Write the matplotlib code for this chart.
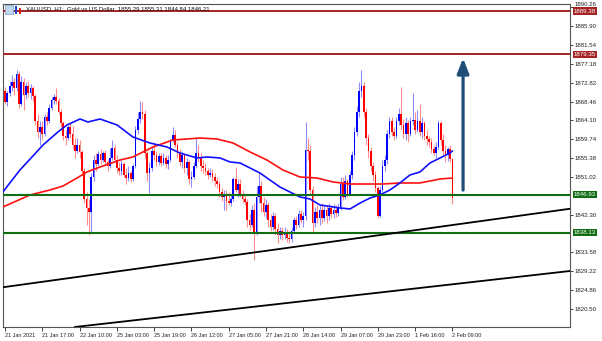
import numpy as np
import matplotlib
matplotlib.use("Agg")
import matplotlib.pyplot as plt
from matplotlib.patches import Rectangle
import matplotlib.transforms as mtransforms

plt.rcParams['font.family'] = ['Liberation Sans', 'DejaVu Sans']

# ---------------- data ----------------
opens = [
    1871.0, 1868.3, 1870.5, 1872.0, 1873.0, 1871.5, 1874.8, 1868.0, 1873.0, 1870.0,
    1872.0, 1870.5, 1871.5, 1869.8, 1864.0, 1861.5, 1862.5, 1861.0, 1864.8, 1864.0,
    1867.0, 1868.8, 1869.5, 1868.5, 1866.0, 1863.5, 1860.5, 1860.0, 1862.5, 1861.0,
    1858.5, 1857.0, 1858.5, 1856.8, 1852.5, 1846.0, 1843.8, 1843.0, 1851.0, 1855.0,
    1854.0, 1856.3, 1855.0, 1856.5, 1854.5, 1853.5, 1855.5, 1857.8, 1855.0, 1853.0,
    1852.5, 1854.0, 1851.5, 1850.8, 1852.0, 1850.5, 1853.5, 1862.0, 1864.5, 1866.0,
    1865.5, 1856.5, 1852.0, 1853.0, 1857.0, 1856.0, 1854.5, 1855.8, 1854.3, 1855.5,
    1854.0, 1855.0, 1859.5, 1860.8, 1858.5, 1856.5, 1854.5, 1856.0, 1853.0, 1854.5,
    1850.5, 1851.0, 1853.5, 1856.5, 1855.5, 1853.5, 1853.0, 1852.5, 1851.5, 1852.0,
    1851.0, 1850.0, 1849.5, 1847.5, 1846.5, 1847.0, 1845.5, 1845.0, 1846.0, 1850.5,
    1848.0, 1849.5, 1847.0, 1846.0, 1845.2, 1841.0, 1840.0, 1843.5, 1838.3, 1846.5,
    1849.0, 1845.0, 1843.0, 1844.5, 1841.0, 1839.5, 1842.0, 1839.0, 1837.5, 1838.5,
    1837.5, 1838.3, 1837.0, 1836.8, 1838.5, 1841.0, 1840.0, 1842.5, 1841.0, 1842.0,
    1857.3, 1857.0, 1848.0, 1840.5, 1843.0, 1841.5, 1843.5, 1841.5, 1843.5, 1842.0,
    1843.8, 1842.5, 1843.5, 1842.8, 1844.0, 1849.5, 1846.5, 1850.0, 1847.0, 1851.5,
    1856.0, 1861.5, 1866.0, 1871.0, 1872.0, 1866.0, 1860.0, 1857.0, 1853.5, 1851.5,
    1848.5, 1842.0, 1848.0, 1853.5, 1855.0, 1861.0, 1864.0, 1861.5, 1860.5, 1864.0,
    1865.5, 1863.0, 1861.0, 1863.5, 1861.0, 1864.0, 1864.3, 1862.0, 1864.0, 1861.5,
    1863.5, 1860.5, 1859.8, 1859.0, 1857.5, 1856.5, 1858.0, 1863.5, 1859.5, 1857.0,
    1856.0, 1857.5, 1855.29,
]
highs = [
    1871.8, 1871.0, 1873.3, 1874.5, 1874.0, 1875.7, 1875.5, 1874.3, 1874.0, 1873.0,
    1873.3, 1872.5, 1872.0, 1870.3, 1865.5, 1864.0, 1864.0, 1865.5, 1866.0, 1867.8,
    1869.5, 1870.3, 1871.6, 1869.2, 1866.8, 1864.0, 1862.0, 1863.0, 1863.5, 1862.8,
    1860.0, 1860.0, 1859.5, 1857.3, 1853.0, 1847.5, 1846.0, 1852.0, 1856.0, 1856.5,
    1857.0, 1857.5, 1857.0, 1857.2, 1855.2, 1857.8, 1859.5, 1858.5, 1856.0, 1854.5,
    1855.0, 1854.5, 1853.0, 1853.5, 1852.5, 1854.0, 1862.8, 1866.0, 1868.7, 1868.3,
    1866.5, 1857.0, 1854.5, 1858.0, 1858.8, 1857.0, 1856.5, 1856.5, 1856.5, 1856.0,
    1856.0, 1860.0, 1862.5, 1862.0, 1859.0, 1857.5, 1857.0, 1856.5, 1855.5, 1855.0,
    1852.5, 1854.5, 1860.0, 1858.5, 1856.5, 1855.0, 1854.3, 1853.0, 1853.0, 1852.8,
    1852.0, 1851.0, 1850.0, 1848.5, 1848.0, 1848.0, 1847.5, 1847.0, 1851.0, 1853.4,
    1850.5, 1850.5, 1848.0, 1847.0, 1846.0, 1842.5, 1844.5, 1845.0, 1849.0, 1852.0,
    1850.0, 1846.5, 1846.0, 1845.3, 1842.5, 1843.0, 1842.7, 1840.5, 1839.5, 1839.5,
    1839.5, 1839.0, 1838.5, 1839.5, 1841.8, 1842.0, 1843.4, 1843.5, 1843.0, 1863.7,
    1860.0, 1858.5, 1849.0, 1844.0, 1844.5, 1844.5, 1845.0, 1844.5, 1844.5, 1845.0,
    1844.5, 1844.8, 1844.5, 1845.0, 1851.0, 1851.0, 1851.5, 1850.5, 1852.5, 1857.0,
    1862.5, 1867.5, 1873.0, 1875.8, 1873.0, 1867.0, 1861.0, 1858.0, 1854.5, 1852.5,
    1849.0, 1849.0, 1855.0, 1856.0, 1862.0, 1865.0, 1864.8, 1862.5, 1865.0, 1867.0,
    1871.8, 1864.5, 1865.0, 1864.2, 1865.0, 1870.4, 1866.0, 1866.5, 1868.0, 1865.0,
    1864.0, 1862.0, 1860.5, 1860.0, 1858.5, 1859.0, 1864.2, 1864.0, 1861.0, 1858.5,
    1858.0, 1858.5, 1855.31,
]
lows = [
    1867.8, 1867.5, 1869.8, 1871.0, 1870.0, 1871.0, 1867.0, 1867.5, 1866.5, 1869.0,
    1869.5, 1869.0, 1868.5, 1863.0, 1860.0, 1858.5, 1859.5, 1860.5, 1863.0, 1863.5,
    1866.5, 1868.0, 1868.0, 1865.5, 1862.5, 1859.5, 1858.5, 1859.5, 1860.0, 1857.5,
    1855.5, 1856.5, 1855.5, 1851.5, 1845.0, 1840.0, 1837.5, 1838.2, 1850.0, 1852.5,
    1853.5, 1854.0, 1854.5, 1853.8, 1852.5, 1853.0, 1855.0, 1854.5, 1852.0, 1851.5,
    1851.5, 1851.0, 1849.5, 1850.0, 1849.8, 1850.0, 1853.0, 1861.0, 1863.5, 1864.5,
    1855.5, 1850.0, 1847.3, 1852.5, 1855.0, 1853.5, 1853.8, 1853.5, 1853.8, 1853.0,
    1852.8, 1854.5, 1859.0, 1858.0, 1855.5, 1853.5, 1853.0, 1852.0, 1851.5, 1849.5,
    1848.8, 1850.5, 1853.0, 1854.5, 1852.5, 1852.0, 1851.5, 1850.5, 1851.0, 1850.0,
    1849.0, 1848.5, 1846.5, 1845.5, 1843.5, 1843.3, 1844.5, 1844.3, 1845.5, 1847.5,
    1846.5, 1846.5, 1845.0, 1844.5, 1839.5, 1838.8, 1839.5, 1831.9, 1837.5, 1845.0,
    1843.0, 1842.0, 1841.5, 1839.5, 1838.5, 1838.8, 1837.5, 1835.8, 1836.8, 1836.5,
    1836.8, 1836.0, 1835.8, 1836.0, 1838.0, 1839.0, 1839.5, 1840.4, 1839.5, 1841.0,
    1855.0, 1847.0, 1838.1, 1839.5, 1840.5, 1840.0, 1840.5, 1840.8, 1840.5, 1841.0,
    1841.5, 1841.5, 1841.8, 1842.0, 1843.5, 1845.8, 1846.0, 1846.5, 1846.8, 1850.5,
    1855.0, 1860.5, 1865.0, 1869.5, 1865.0, 1858.5, 1855.5, 1852.5, 1850.0, 1847.5,
    1841.5, 1841.8, 1847.5, 1852.5, 1854.0, 1860.0, 1860.5, 1859.5, 1860.0, 1863.0,
    1862.0, 1860.0, 1859.5, 1859.0, 1860.5, 1863.0, 1861.0, 1861.5, 1860.5, 1860.0,
    1859.5, 1858.5, 1858.0, 1856.5, 1856.0, 1855.5, 1857.5, 1858.5, 1856.0, 1854.5,
    1854.8, 1854.5, 1844.84,
]
closes = [
    1868.3, 1870.5, 1872.0, 1873.0, 1871.5, 1874.8, 1868.0, 1873.0, 1870.0, 1872.0,
    1870.5, 1871.5, 1869.8, 1864.0, 1861.5, 1862.5, 1861.0, 1864.8, 1864.0, 1867.0,
    1868.8, 1869.5, 1868.5, 1866.0, 1863.5, 1860.5, 1860.0, 1862.5, 1861.0, 1858.5,
    1857.0, 1858.5, 1856.8, 1852.5, 1846.0, 1843.8, 1843.0, 1851.0, 1855.0, 1854.0,
    1856.3, 1855.0, 1856.5, 1854.5, 1853.5, 1855.5, 1857.8, 1855.0, 1853.0, 1852.5,
    1854.0, 1851.5, 1850.8, 1852.0, 1850.5, 1853.5, 1862.0, 1864.5, 1866.0, 1865.5,
    1856.5, 1852.0, 1853.0, 1857.0, 1856.0, 1854.5, 1855.8, 1854.3, 1855.5, 1854.0,
    1855.0, 1859.5, 1860.8, 1858.5, 1856.5, 1854.5, 1856.0, 1853.0, 1854.5, 1850.5,
    1851.0, 1853.5, 1856.5, 1855.5, 1853.5, 1853.0, 1852.5, 1851.5, 1852.0, 1851.0,
    1850.0, 1849.5, 1847.5, 1846.5, 1847.0, 1845.5, 1845.0, 1846.0, 1850.5, 1848.0,
    1849.5, 1847.0, 1846.0, 1845.2, 1841.0, 1840.0, 1843.5, 1838.3, 1846.5, 1849.0,
    1845.0, 1843.0, 1844.5, 1841.0, 1839.5, 1842.0, 1839.0, 1837.5, 1838.5, 1837.5,
    1838.3, 1837.0, 1836.8, 1838.5, 1841.0, 1840.0, 1842.5, 1841.0, 1842.0, 1857.3,
    1857.0, 1848.0, 1840.5, 1843.0, 1841.5, 1843.5, 1841.5, 1843.5, 1842.0, 1843.8,
    1842.5, 1843.5, 1842.8, 1844.0, 1849.5, 1846.5, 1850.0, 1847.0, 1851.5, 1856.0,
    1861.5, 1866.0, 1871.0, 1872.0, 1866.0, 1860.0, 1857.0, 1853.5, 1851.5, 1848.5,
    1842.0, 1848.0, 1853.5, 1855.0, 1861.0, 1864.0, 1861.5, 1860.5, 1864.0, 1865.5,
    1863.0, 1861.0, 1863.5, 1861.0, 1864.0, 1864.3, 1862.0, 1864.0, 1861.5, 1863.5,
    1860.5, 1859.8, 1859.0, 1857.5, 1856.5, 1858.0, 1863.5, 1859.5, 1857.0, 1856.0,
    1857.5, 1855.29, 1846.21,
]

# moving averages, sampled along the bars (bar index, price)
ma_fast_bars = [-0.9, 6.4, 11.6, 16.3, 22.7, 26.6, 32.2, 35.6, 40.8, 48.1, 54.9, 62.2,
                69.5, 75.1, 82.4, 86.7, 92.3, 96.6, 100.9, 109.4, 118.0, 126.6, 130.9,
                135.2, 143.8, 148.1, 152.4, 156.7, 160.9, 165.2, 169.5, 173.8, 178.1,
                182.4, 186.7, 191.0, 192.0]
ma_fast = [1847.56, 1852.64, 1855.65, 1858.42, 1861.43, 1863.05, 1864.43, 1863.74,
           1864.43, 1863.05, 1860.27, 1858.88, 1857.96, 1856.57, 1855.42, 1855.65,
           1855.42, 1854.49, 1854.26, 1851.95, 1848.71, 1846.40, 1845.94, 1844.55,
           1843.86, 1843.63, 1845.01, 1846.17, 1846.86, 1848.02, 1849.64, 1851.49,
           1852.18, 1854.26, 1855.42, 1856.57, 1857.04]
ma_slow_bars = [-0.9, 10.7, 19.3, 24.9, 30.9, 35.2, 40.8, 49.4, 54.9, 63.5, 72.1, 78.1,
                83.7, 91.0, 97.9, 105.2, 112.4, 119.3, 126.6, 133.9, 140.8, 148.1,
                155.4, 162.2, 169.5, 178.1, 186.7, 192.0]
ma_slow = [1844.09, 1846.86, 1848.02, 1848.94, 1850.79, 1852.18, 1853.33, 1854.95,
           1855.65, 1857.96, 1859.58, 1859.81, 1860.04, 1859.81, 1858.88, 1856.80,
           1854.95, 1852.64, 1851.02, 1850.79, 1849.87, 1849.40, 1849.40, 1849.40,
           1849.64, 1849.64, 1850.56, 1850.79]

resistance_levels = [1889.38, 1879.35]
support_levels = [1846.93, 1838.13]

trend1_bars = [-0.86, 242.5]
trend1_prices = [1825.53, 1843.68]
trend2_bars = [30.0, 242.5]
trend2_prices = [1816.34, 1829.29]

arrow_bar = 196.6
arrow_from = 1848.0
arrow_to = 1878.5

price_ticks = [1890.26, 1885.90, 1881.54, 1877.18, 1872.82, 1868.46, 1864.10,
               1859.74, 1855.38, 1851.02, 1842.30, 1833.58, 1829.22, 1824.86, 1820.50]
time_labels = ["21 Jan 2021", "21 Jan 17:00", "22 Jan 10:00", "25 Jan 03:00",
               "25 Jan 19:00", "26 Jan 12:00", "27 Jan 05:00", "27 Jan 21:00",
               "28 Jan 14:00", "29 Jan 07:00", "29 Jan 23:00", "1 Feb 16:00",
               "2 Feb 09:00"]
time_label_step = 16

title = "XAUUSD, H1:  Gold vs US Dollar  1855.29 1855.31 1844.84 1846.21"

# ---------------- figure ----------------
W, H = 602, 341
fig = plt.figure(figsize=(W / 100, H / 100), dpi=100)
fig.patch.set_facecolor('white')
ax = fig.add_axes([3 / W, 1 - 327 / H, 567 / W, 323 / H])
ax.set_facecolor('white')

o = np.array(opens); h = np.array(highs); l = np.array(lows); c = np.array(closes)
idx = np.arange(len(c))
up = c >= o
cols = np.where(up, '#0000FF', '#FF0000')

ax.vlines(idx, l, h, colors=cols, lw=0.8, alpha=0.45, zorder=2)
body = np.maximum(np.abs(c - o), 0.2)
ax.bar(idx, body, bottom=np.minimum(o, c), width=0.72, color=cols, linewidth=0, zorder=3)

ax.plot(ma_slow_bars, ma_slow, color='#FF1010', lw=1.2, zorder=4)
ax.plot(ma_fast_bars, ma_fast, color='#1010FF', lw=1.2, zorder=4)

for lv in resistance_levels:
    ax.axhline(lv, color='#A52424', lw=1.4, zorder=5)
for lv in support_levels:
    ax.axhline(lv, color='#0F6E12', lw=1.5, zorder=5)

ax.plot(trend1_bars, trend1_prices, color='black', lw=1.3, zorder=5)
ax.plot(trend2_bars, trend2_prices, color='black', lw=1.3, zorder=5)

ax.annotate('', xy=(arrow_bar, arrow_to), xytext=(arrow_bar, arrow_from),
            arrowprops=dict(arrowstyle='-|>,head_length=0.9,head_width=0.35',
                            color='#1F4E79', lw=2.3, mutation_scale=10,
                            shrinkA=0, shrinkB=0), zorder=6)

ax.set_xlim(-0.86, 242.5)
ax.set_ylim(1816.34, 1891.02)

# axes style
for s in ax.spines.values():
    s.set_color('#555555')
    s.set_linewidth(0.8)
ax.yaxis.tick_right()
ax.set_yticks(price_ticks)
ax.set_yticklabels([f"{p:.2f}" for p in price_ticks])
ax.tick_params(axis='y', which='both', labelsize=4.4, length=2.5, width=0.6,
               colors='#222222', pad=1)
# the top price label sits just above the first level box, as in the terminal
ax.get_yticklabels()[0].set_verticalalignment('bottom')
ax.set_xticks(np.arange(len(time_labels)) * time_label_step)
ax.set_xticklabels(time_labels, ha='left')
ax.tick_params(axis='x', labelsize=4.0, length=3, width=0.6, colors='#222222', pad=1)

# price labels for horizontal levels
trans = mtransforms.blended_transform_factory(ax.transAxes, ax.transData)
for lv in resistance_levels:
    ax.text(1.007, lv, f"{lv:.2f}", transform=trans, fontsize=4.4, color='white',
            va='center', ha='left', zorder=10, clip_on=False,
            bbox=dict(boxstyle='square,pad=0.2', fc='#A52424', ec='none'))
for lv in support_levels:
    ax.text(1.007, lv, f"{lv:.2f}", transform=trans, fontsize=4.4, color='white',
            va='center', ha='left', zorder=10, clip_on=False,
            bbox=dict(boxstyle='square,pad=0.2', fc='#0F6E12', ec='none'))

# title and small icons
fig.text(26 / W, 1 - 9 / H, title, fontsize=4.3, color='#111111', va='center', ha='left')
fig.patches.append(Rectangle((5 / W, 1 - 14 / H), 8 / W, 9 / H, transform=fig.transFigure,
                             fc='#BFD7F0', ec='#7A9CC6', lw=0.5))
fig.patches.append(Rectangle((15 / W, 1 - 14 / H), 2 / W, 8 / H, transform=fig.transFigure,
                             fc='#2040D0', ec='none'))
fig.patches.append(Rectangle((19 / W, 1 - 14 / H), 2 / W, 6 / H, transform=fig.transFigure,
                             fc='#D02020', ec='none'))

fig.savefig('out.png', dpi=100)
